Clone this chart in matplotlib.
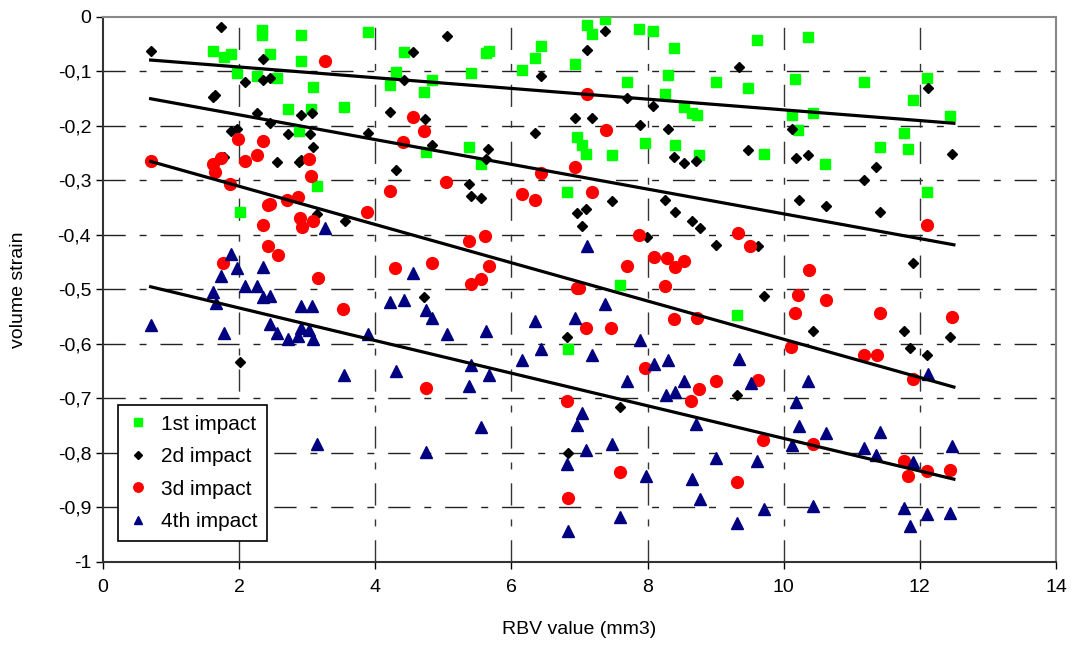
import matplotlib
matplotlib.use("Agg")
import matplotlib.pyplot as plt
from matplotlib.ticker import FuncFormatter, MultipleLocator

plt.rcParams['font.family'] = ['Liberation Sans', 'DejaVu Sans']

# ---- data ----
x1 = [2.34, 2.34, 1.62, 1.78, 1.88, 1.97, 2.27, 2.45, 2.01, 2.91, 3.90, 2.91, 2.56, 3.09, 2.72,
      3.05, 3.54, 2.88, 3.15, 4.42, 4.30, 4.21, 4.72, 4.74, 4.84, 5.40, 5.62, 5.67, 5.37, 5.56,
      6.15, 6.34, 6.44, 6.93, 7.11, 6.97, 7.03, 7.10, 6.81, 7.19, 7.38, 7.88, 8.08, 8.39, 7.70,
      8.30, 8.26, 9.00, 8.54, 8.65, 8.72, 9.48, 7.48, 7.96, 8.40, 8.76, 7.60, 9.31, 9.61, 10.36,
      10.17, 11.18, 10.12, 10.43, 10.21, 9.71, 10.61, 11.41, 11.76, 11.83, 12.11, 11.90, 12.45,
      12.10, 6.83]
y1 = [-0.024, -0.033, -0.063, -0.073, -0.068, -0.102, -0.108, -0.068, -0.358, -0.033, -0.027,
      -0.080, -0.112, -0.129, -0.168, -0.169, -0.166, -0.210, -0.310, -0.065, -0.101, -0.125,
      -0.138, -0.247, -0.116, -0.103, -0.066, -0.062, -0.239, -0.269, -0.097, -0.075, -0.053,
      -0.086, -0.015, -0.220, -0.234, -0.252, -0.322, -0.032, -0.004, -0.022, -0.026, -0.057,
      -0.119, -0.106, -0.141, -0.120, -0.166, -0.176, -0.179, -0.131, -0.254, -0.232, -0.235,
      -0.253, -0.492, -0.546, -0.043, -0.037, -0.114, -0.119, -0.179, -0.177, -0.207, -0.252,
      -0.270, -0.239, -0.212, -0.242, -0.112, -0.153, -0.182, -0.321, -0.610]

x2 = [1.74, 0.70, 2.35, 2.09, 2.35, 1.62, 1.65, 2.27, 1.88, 1.97, 1.78, 2.45, 2.45, 2.91, 3.07,
      2.72, 3.04, 3.09, 2.56, 2.88, 2.91, 3.89, 3.15, 3.55, 4.56, 4.42, 4.21, 4.73, 4.30, 5.05,
      4.83, 5.66, 5.62, 5.38, 5.40, 5.56, 6.44, 6.34, 6.93, 7.11, 6.97, 7.10, 7.03, 7.38, 9.34,
      7.70, 8.08, 7.19, 7.89, 8.30, 8.39, 8.54, 8.71, 9.48, 7.48, 8.26, 8.40, 8.65, 8.77, 7.99,
      9.00, 10.12, 10.18, 10.36, 11.36, 11.18, 10.22, 10.62, 11.41, 9.62, 12.12, 12.47, 11.90,
      2.01, 4.72, 6.81, 6.83, 7.60, 9.31, 9.71, 10.43, 11.77, 11.85, 12.45, 12.10]
y2 = [-0.019, -0.063, -0.078, -0.120, -0.115, -0.147, -0.143, -0.177, -0.209, -0.206, -0.257,
      -0.112, -0.195, -0.180, -0.177, -0.215, -0.215, -0.239, -0.266, -0.266, -0.263, -0.212,
      -0.361, -0.374, -0.065, -0.116, -0.175, -0.187, -0.281, -0.035, -0.234, -0.243, -0.260,
      -0.307, -0.329, -0.332, -0.109, -0.212, -0.185, -0.060, -0.359, -0.352, -0.383, -0.026,
      -0.092, -0.149, -0.163, -0.185, -0.198, -0.205, -0.256, -0.268, -0.265, -0.244, -0.337,
      -0.335, -0.358, -0.374, -0.388, -0.404, -0.419, -0.205, -0.258, -0.253, -0.275, -0.300,
      -0.335, -0.346, -0.357, -0.420, -0.130, -0.251, -0.452, -0.633, -0.514, -0.588, -0.800,
      -0.715, -0.694, -0.512, -0.576, -0.576, -0.607, -0.587, -0.621]

x3 = [0.70, 1.98, 2.35, 2.27, 2.08, 1.74, 1.62, 1.65, 1.87, 2.42, 2.35, 2.42, 1.77, 3.26, 3.02,
      3.06, 2.45, 2.71, 2.87, 2.90, 3.08, 2.92, 3.88, 4.22, 2.57, 3.16, 4.55, 4.72, 4.41, 4.29,
      5.04, 6.15, 6.34, 6.44, 6.93, 7.11, 5.37, 5.61, 4.84, 5.67, 5.40, 5.56, 6.96, 7.00, 7.39,
      7.19, 7.88, 9.33, 8.09, 8.29, 8.54, 8.41, 7.70, 8.26, 9.50, 10.37, 12.11, 3.53, 4.74, 7.09,
      6.81, 6.83, 7.47, 8.39, 8.72, 7.96, 9.00, 8.76, 8.64, 7.59, 9.31, 10.21, 10.62, 10.17,
      11.42, 10.11, 11.18, 11.37, 9.62, 9.70, 10.43, 11.76, 12.47, 11.90, 11.83, 12.10, 12.44]
y3 = [-0.264, -0.224, -0.227, -0.254, -0.264, -0.259, -0.269, -0.284, -0.306, -0.345, -0.382,
      -0.421, -0.452, -0.081, -0.261, -0.292, -0.344, -0.335, -0.331, -0.368, -0.374, -0.385,
      -0.357, -0.320, -0.437, -0.479, -0.184, -0.209, -0.229, -0.461, -0.303, -0.324, -0.336,
      -0.287, -0.275, -0.141, -0.411, -0.402, -0.452, -0.456, -0.490, -0.481, -0.498, -0.498,
      -0.207, -0.322, -0.400, -0.396, -0.440, -0.443, -0.447, -0.458, -0.457, -0.494, -0.421,
      -0.464, -0.382, -0.535, -0.681, -0.571, -0.705, -0.882, -0.571, -0.555, -0.553, -0.644,
      -0.667, -0.683, -0.705, -0.835, -0.854, -0.511, -0.519, -0.544, -0.544, -0.605, -0.621,
      -0.621, -0.666, -0.776, -0.784, -0.815, -0.550, -0.664, -0.842, -0.833, -0.832]

x4 = [1.88, 1.97, 2.35, 1.74, 1.62, 2.09, 2.27, 2.35, 1.66, 0.70, 1.78, 2.45, 2.91, 3.07, 2.45,
      2.56, 2.72, 2.87, 2.91, 3.03, 3.09, 3.90, 3.54, 3.15, 4.21, 4.42, 4.74, 4.30, 4.74, 4.83,
      5.05, 5.62, 5.40, 5.67, 5.38, 5.56, 6.34, 6.93, 6.44, 6.15, 7.03, 6.97, 6.81, 7.10, 6.83,
      7.38, 7.89, 7.19, 8.09, 8.30, 7.70, 8.54, 8.27, 8.40, 9.34, 8.71, 7.48, 9.00, 7.97, 8.65,
      8.77, 7.60, 9.31, 9.52, 10.36, 10.18, 10.22, 10.12, 10.62, 11.41, 11.18, 11.36, 9.61,
      9.71, 10.43, 11.77, 12.12, 12.47, 11.90, 12.10, 12.45, 11.85, 7.11, 4.56, 3.26]
y4 = [-0.434, -0.461, -0.458, -0.476, -0.504, -0.494, -0.494, -0.513, -0.525, -0.565, -0.580,
      -0.512, -0.530, -0.530, -0.564, -0.580, -0.590, -0.585, -0.570, -0.574, -0.590, -0.582,
      -0.656, -0.783, -0.523, -0.520, -0.538, -0.649, -0.798, -0.553, -0.582, -0.577, -0.639,
      -0.656, -0.677, -0.752, -0.558, -0.552, -0.610, -0.630, -0.726, -0.748, -0.821, -0.794,
      -0.944, -0.527, -0.593, -0.621, -0.636, -0.630, -0.667, -0.667, -0.694, -0.688, -0.628,
      -0.746, -0.784, -0.809, -0.843, -0.848, -0.884, -0.917, -0.929, -0.672, -0.667, -0.706,
      -0.750, -0.785, -0.763, -0.761, -0.790, -0.804, -0.814, -0.902, -0.898, -0.901, -0.655,
      -0.788, -0.816, -0.912, -0.911, -0.934, -0.421, -0.469, -0.388]

trend_x = [0.7, 12.5]
trend1 = [-0.079, -0.195]
trend2 = [-0.150, -0.418]
trend3 = [-0.265, -0.679]
trend4 = [-0.495, -0.848]

labels = ["1st impact", "2d impact", "3d impact", "4th impact"]
x_ticks = [0, 2, 4, 6, 8, 10, 12, 14]

# ---- figure ----
fig = plt.figure(figsize=(10.77, 6.58), dpi=100)
ax = fig.add_axes([0.0956, 0.1459, 0.8849, 0.8283])

grid_ls = (0, (16, 10, 5, 10))
for yv in [-0.1 * i for i in range(1, 10)]:
    ax.axhline(yv, color='#222222', lw=1.0, ls=grid_ls, zorder=1)
for xv in x_ticks[1:-1]:
    ax.axvline(xv, color='#333333', lw=1.0, ls=grid_ls, zorder=1)

ax.plot(x1, y1, ls='none', marker='s', ms=7, color='#00FF00', mec='#00FF00', label=labels[0], zorder=3)
ax.plot(x2, y2, ls='none', marker='D', ms=5.5, color='black', label=labels[1], zorder=3)
ax.plot(x3, y3, ls='none', marker='o', ms=8.5, color='#FF0000', mec='#FF0000', label=labels[2], zorder=3)
ax.plot(x4, y4, ls='none', marker='^', ms=8, color='#000080', mec='#000080', label=labels[3], zorder=3)

for t in (trend1, trend2, trend3, trend4):
    ax.plot(trend_x, t, color='black', lw=2.3, zorder=4)

ax.set_xlim(0, 14)
ax.set_ylim(-1, 0)
ax.set_xticks(x_ticks)
ax.yaxis.set_major_locator(MultipleLocator(0.1))

def yfmt(v, pos):
    r = round(v, 1)
    if abs(r) < 1e-9:
        return "0"
    if abs(r - round(r)) < 1e-9:
        return "%d" % round(r)
    return ("%.1f" % r).replace('.', ',')

ax.yaxis.set_major_formatter(FuncFormatter(yfmt))
ax.tick_params(direction='out', length=5, width=1, labelsize=14, colors='black')
ax.tick_params(axis='x', pad=7)

for s in ('top', 'right'):
    ax.spines[s].set_color('#888888')
    ax.spines[s].set_linewidth(1.5)
for s in ('left', 'bottom'):
    ax.spines[s].set_color('#333333')
    ax.spines[s].set_linewidth(1.5)

ax.set_xlabel("RBV value (mm3)", fontsize=14, labelpad=18)
ax.set_ylabel("volume strain", fontsize=14, labelpad=22)

leg = ax.legend(loc='lower left', bbox_to_anchor=(0.005, 0.02), fontsize=15,
                frameon=True, fancybox=False, edgecolor='black', framealpha=1,
                handlelength=1.0, handletextpad=0.6, labelspacing=0.65,
                borderpad=0.45, markerscale=0.8)
leg.get_frame().set_linewidth(1.2)
leg.set_zorder(5)

fig.savefig("out.png", dpi=100)
